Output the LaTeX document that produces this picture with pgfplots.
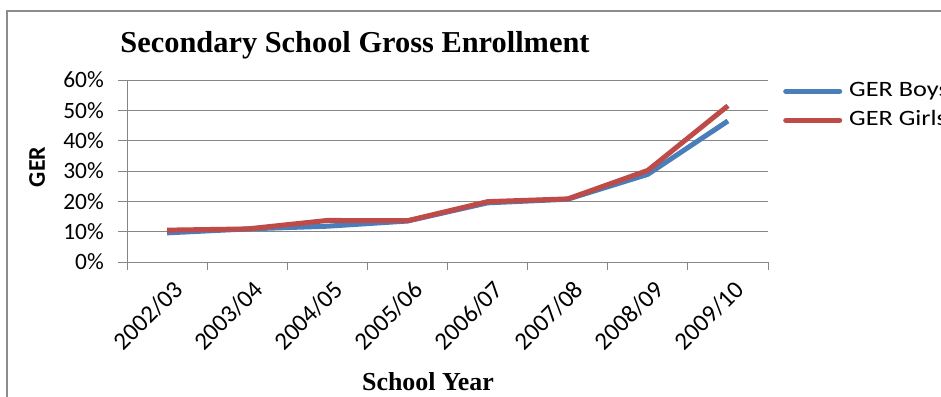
\documentclass[border=0pt]{standalone}
\usepackage{fontspec}
\setmainfont{Carlito}
\newfontfamily\tnr{Liberation Serif}
\usepackage{graphicx}
\usepackage{pgfplots}
\pgfplotsset{compat=1.18}
\definecolor{boys}{HTML}{4A7EBB}
\definecolor{girls}{HTML}{BE4B48}
\definecolor{gridgray}{HTML}{868686}
\definecolor{framegray}{HTML}{8C8C8C}
\begin{document}
\begin{tikzpicture}[x=1bp,y=1bp]
\useasboundingbox (0,0) rectangle (941,396);
\fill[white] (0,0) rectangle (941,396);
\draw[framegray, line width=1.6bp] (7,-5) -- (7,385) -- (946,385);
\node[font=\tnr\bfseries\fontsize{30.5}{30.5}\selectfont, anchor=base] at (355,344) {Secondary School Gross Enrollment};
\node[font=\tnr\bfseries\fontsize{26}{26}\selectfont, anchor=base] at (428,6) {School Year};
\node[font=\bfseries\fontsize{24}{24}\selectfont, rotate=90, anchor=center] at (37,229) {GER};
\begin{axis}[
  at={(127bp,134bp)}, anchor=south west,
  scale only axis, width=641bp, height=182bp,
  xmin=0, xmax=8, ymin=0, ymax=60,
  axis x line*=bottom, axis y line*=left,
  axis line style={gridgray, line width=1bp, -},
  tick align=outside,
  xtick={0.5,1.5,2.5,3.5,4.5,5.5,6.5,7.5},
  xticklabels={2002/03,2003/04,2004/05,2005/06,2006/07,2007/08,2008/09,2009/10},
  minor xtick={0,1,2,3,4,5,6,7,8},
  major x tick style={draw=none},
  minor x tick style={gridgray, line width=1bp},
  minor tick length=8bp,
  major tick length=9bp,
  y tick style={gridgray, line width=1bp},
  ytick={0,10,20,30,40,50,60},
  yticklabels={0\%,10\%,20\%,30\%,40\%,50\%,60\%},
  ymajorgrids,
  grid style={gridgray, line width=1bp},
  /pgf/number format/assume math mode=true,
  x tick label style={font=\fontsize{25}{25}\selectfont, rotate=45, anchor=north east, inner sep=0pt, xshift=-2bp, yshift=-9bp},
  y tick label style={font=\fontsize{23.5}{23.5}\selectfont, anchor=east, inner sep=0pt, xshift=-14bp},
  legend style={at={(axis description cs:1.0234,1.0)}, anchor=north west, draw=none, fill=none, inner sep=0pt, row sep=9bp,
    font=\fontsize{22}{22}\selectfont,
    nodes={inner sep=0pt, text height=16bp, text depth=4bp},
    /tikz/every odd column/.append style={column sep=7bp}},
  legend cell align=left,
  legend image code/.code={\draw[#1, line width=5bp, line cap=round] (2bp,-1bp) -- (56bp,-1bp);},
]
\addplot[boys, line width=5bp, line join=round] coordinates {
 (0.5,9.6) (1.5,10.9) (2.5,11.8) (3.5,13.5) (4.5,19.5) (5.5,20.7) (6.5,28.9) (7.5,46.5)};
\addlegendentry{\scalebox{1.2}[1]{GER Boys}}
\addplot[girls, line width=5bp, line join=round] coordinates {
 (0.5,10.5) (1.5,10.9) (2.5,13.7) (3.5,13.6) (4.5,19.9) (5.5,20.8) (6.5,30.2) (7.5,51.5)};
\addlegendentry{\scalebox{1.2}[1]{GER Girls}}
\end{axis}
\end{tikzpicture}
\end{document}
